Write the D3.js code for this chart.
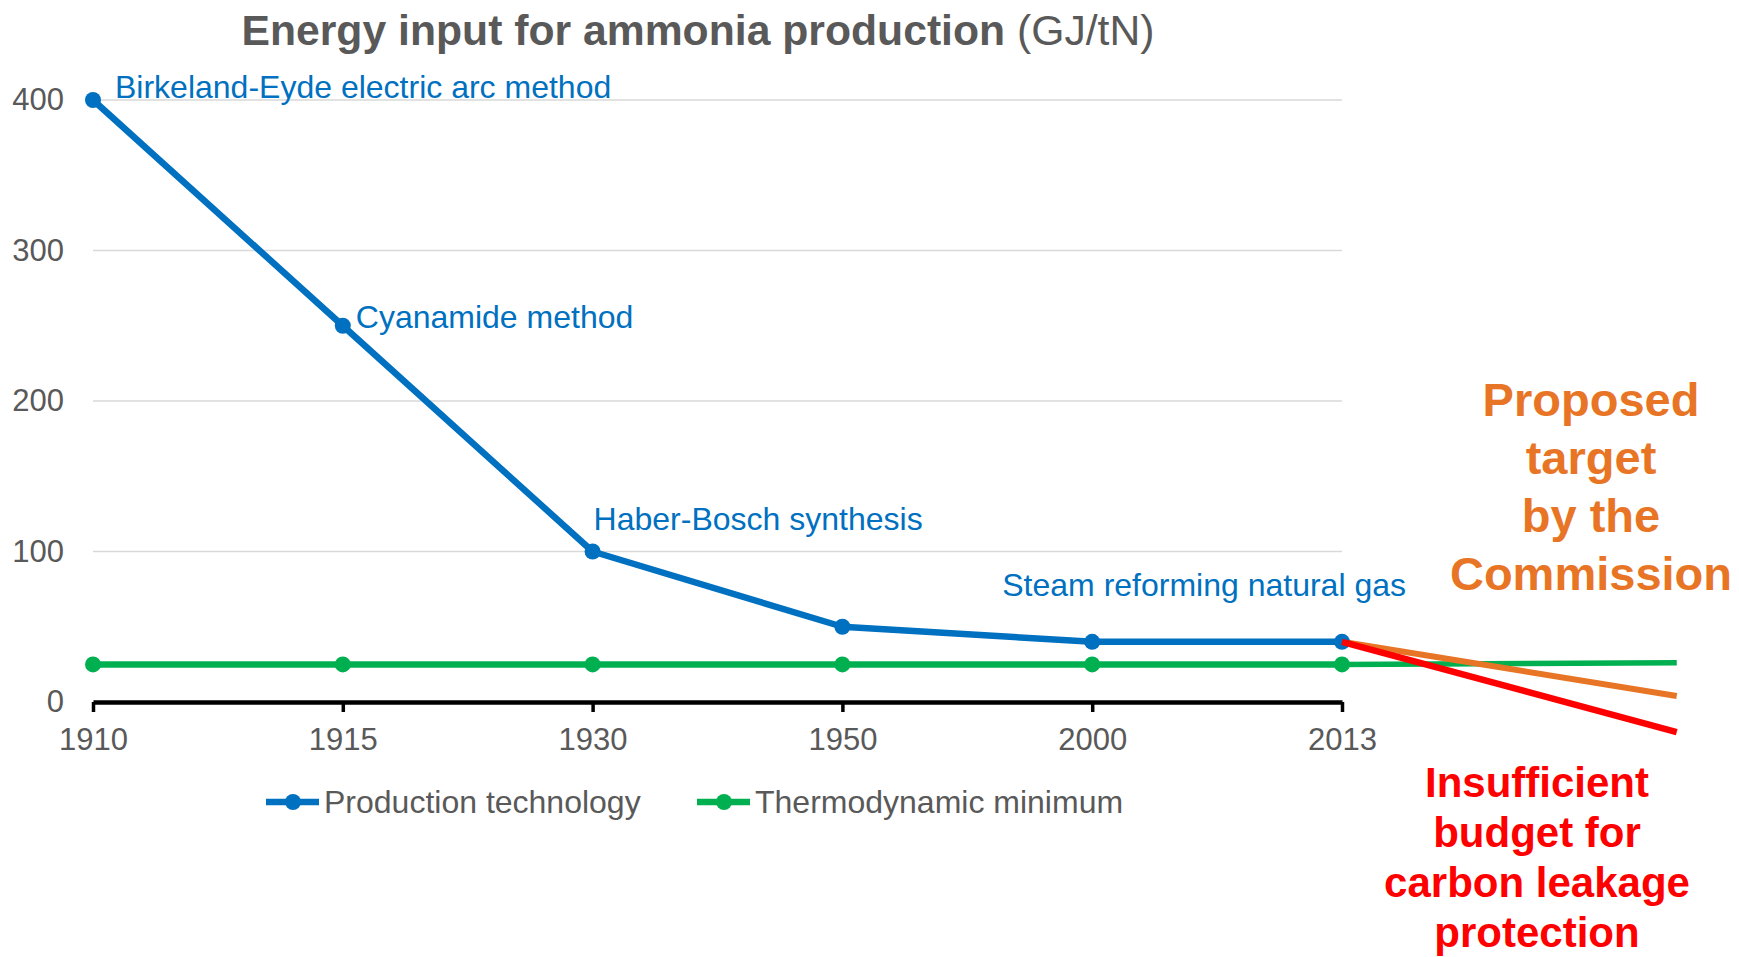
<!DOCTYPE html>
<html>

<head>
  <meta charset="utf-8" />
  <title>Energy input for ammonia production</title>
  <style>
    body {
      margin: 0;
      background: #fff;
    }

    svg text {
      font-family: "Liberation Sans", Arial, sans-serif;
    }

    .grid line {
      stroke: #d9d9d9;
      stroke-width: 1.5px;
    }
  </style>
  <script src="https://cdnjs.cloudflare.com/ajax/libs/d3/7.8.5/d3.min.js"></script>
</head>

<body>
  <div id="chartArea"></div>
  <script>
    var years = ['1910', '1915', '1930', '1950', '2000', '2013'];
    var production = [400, 250, 100, 50, 40, 40];
    var thermoMin = [25, 25, 25, 25, 25, 25];
    var yTicks = [0, 100, 200, 300, 400];

    var methodLabels = ['Birkeland-Eyde electric arc method', 'Cyanamide method', 'Haber-Bosch synthesis', null, null, 'Steam reforming natural gas'];

    // projections after 2013, x given as category index
    var projIndex = [5, 6.34];
    var proposedTarget = [40, 4];
    var insufficientBudget = [40, -20];
    var thermoExtension = [25, 26];

    var proposedText = ['Proposed', 'target', 'by the', 'Commission'];
    var insufficientText = ['Insufficient', 'budget for', 'carbon leakage', 'protection'];

    var blue = '#0070c0',
      green = '#00b050',
      orange = '#e87525',
      red = '#ff0000',
      gray = '#595959';

    var W = 1739,
      H = 957;

    var svg = d3.select('#chartArea').append('svg')
      .attr('width', W)
      .attr('height', H);

    var xScale = d3.scalePoint()
      .domain(years)
      .range([93, 1342]);

    var xIdx = d3.scaleLinear()
      .domain([0, years.length - 1])
      .range(xScale.range());

    var yScale = d3.scaleLinear()
      .domain([0, 400])
      .range([702, 100]);

    // gridlines
    svg.append('g')
      .attr('class', 'grid')
      .selectAll('line')
      .data(yTicks.filter(d => d > 0))
      .enter()
      .append('line')
      .attr('x1', xScale.range()[0])
      .attr('x2', xScale.range()[1])
      .attr('y1', d => yScale(d))
      .attr('y2', d => yScale(d));

    // y axis labels
    var yAxis = svg.append('g')
      .attr('transform', 'translate(' + xScale.range()[0] + ',0)')
      .call(d3.axisLeft(yScale).tickValues(yTicks).tickSize(0).tickPadding(29));
    yAxis.select('.domain').remove();
    yAxis.selectAll('text')
      .attr('fill', gray)
      .style('font-size', '31px');

    // x axis
    var xAxis = svg.append('g')
      .attr('transform', 'translate(0,' + yScale(0) + ')')
      .call(d3.axisBottom(xScale).tickSizeInner(10).tickSizeOuter(0).tickPadding(16));
    xAxis.select('.domain')
      .attr('stroke', '#000')
      .attr('stroke-width', 4.5);
    xAxis.selectAll('.tick line')
      .attr('stroke', '#000')
      .attr('stroke-width', 3.5);
    xAxis.selectAll('text')
      .attr('fill', gray)
      .style('font-size', '31px');

    // projection lines
    var projLine = d3.line()
      .x((d, i) => xIdx(projIndex[i]))
      .y(d => yScale(d));

    svg.append('path')
      .datum(thermoExtension)
      .attr('d', projLine)
      .attr('fill', 'none')
      .attr('stroke', green)
      .attr('stroke-width', 5.5);

    svg.append('path')
      .datum(proposedTarget)
      .attr('d', projLine)
      .attr('fill', 'none')
      .attr('stroke', orange)
      .attr('stroke-width', 6);

    // series
    var line = d3.line()
      .x((d, i) => xScale(years[i]))
      .y(d => yScale(d));

    var series = [
      { name: 'Thermodynamic minimum', values: thermoMin, color: green },
      { name: 'Production technology', values: production, color: blue }
    ];

    series.forEach(function (s) {
      svg.append('path')
        .datum(s.values)
        .attr('d', line)
        .attr('fill', 'none')
        .attr('stroke', s.color)
        .attr('stroke-width', 6.5)
        .attr('stroke-linejoin', 'round');

      svg.append('g')
        .selectAll('circle')
        .data(s.values)
        .enter()
        .append('circle')
        .attr('cx', (d, i) => xScale(years[i]))
        .attr('cy', d => yScale(d))
        .attr('r', 8)
        .attr('fill', s.color);
    });

    svg.append('path')
      .datum(insufficientBudget)
      .attr('d', projLine)
      .attr('fill', 'none')
      .attr('stroke', red)
      .attr('stroke-width', 6.5);

    // method labels on the production line
    var labelOffsets = [[22, -2], [13, 2], [1, -22], null, null, [64, -46]];
    var labelAnchors = ['start', 'start', 'start', null, null, 'end'];

    svg.append('g')
      .selectAll('text')
      .data(methodLabels)
      .enter()
      .filter(d => d)
      .append('text')
      .attr('x', d => xScale(years[methodLabels.indexOf(d)]) + labelOffsets[methodLabels.indexOf(d)][0])
      .attr('y', d => yScale(production[methodLabels.indexOf(d)]) + labelOffsets[methodLabels.indexOf(d)][1])
      .attr('text-anchor', d => labelAnchors[methodLabels.indexOf(d)])
      .attr('fill', blue)
      .style('font-size', '32px')
      .text(d => d);

    // title
    var title = svg.append('text')
      .attr('x', 698)
      .attr('y', 45)
      .attr('text-anchor', 'middle')
      .attr('fill', gray)
      .style('font-size', '42.7px');
    title.append('tspan')
      .attr('font-weight', 'bold')
      .text('Energy input for ammonia production');
    title.append('tspan')
      .text(' (GJ/tN)');

    // legend
    var legendItems = [
      { name: 'Production technology', color: blue, x: 266 },
      { name: 'Thermodynamic minimum', color: green, x: 697 }
    ];
    var legend = svg.append('g')
      .selectAll('g')
      .data(legendItems)
      .enter()
      .append('g')
      .attr('transform', d => 'translate(' + d.x + ',802)');
    legend.append('line')
      .attr('x1', 0)
      .attr('x2', 53)
      .attr('stroke', d => d.color)
      .attr('stroke-width', 6.5);
    legend.append('circle')
      .attr('cx', 27)
      .attr('r', 8)
      .attr('fill', d => d.color);
    legend.append('text')
      .attr('x', 58)
      .attr('dy', '0.35em')
      .attr('fill', gray)
      .style('font-size', '32px')
      .text(d => d.name);

    // side notes
    svg.append('text')
      .attr('text-anchor', 'middle')
      .attr('font-weight', 'bold')
      .attr('fill', orange)
      .style('font-size', '47px')
      .selectAll('tspan')
      .data(proposedText)
      .enter()
      .append('tspan')
      .attr('x', 1591)
      .attr('y', (d, i) => 416 + i * 58)
      .text(d => d);

    svg.append('text')
      .attr('text-anchor', 'middle')
      .attr('font-weight', 'bold')
      .attr('fill', red)
      .style('font-size', '42px')
      .selectAll('tspan')
      .data(insufficientText)
      .enter()
      .append('tspan')
      .attr('x', 1537)
      .attr('y', (d, i) => 797 + i * 50)
      .text(d => d);
  </script>
</body>

</html>
